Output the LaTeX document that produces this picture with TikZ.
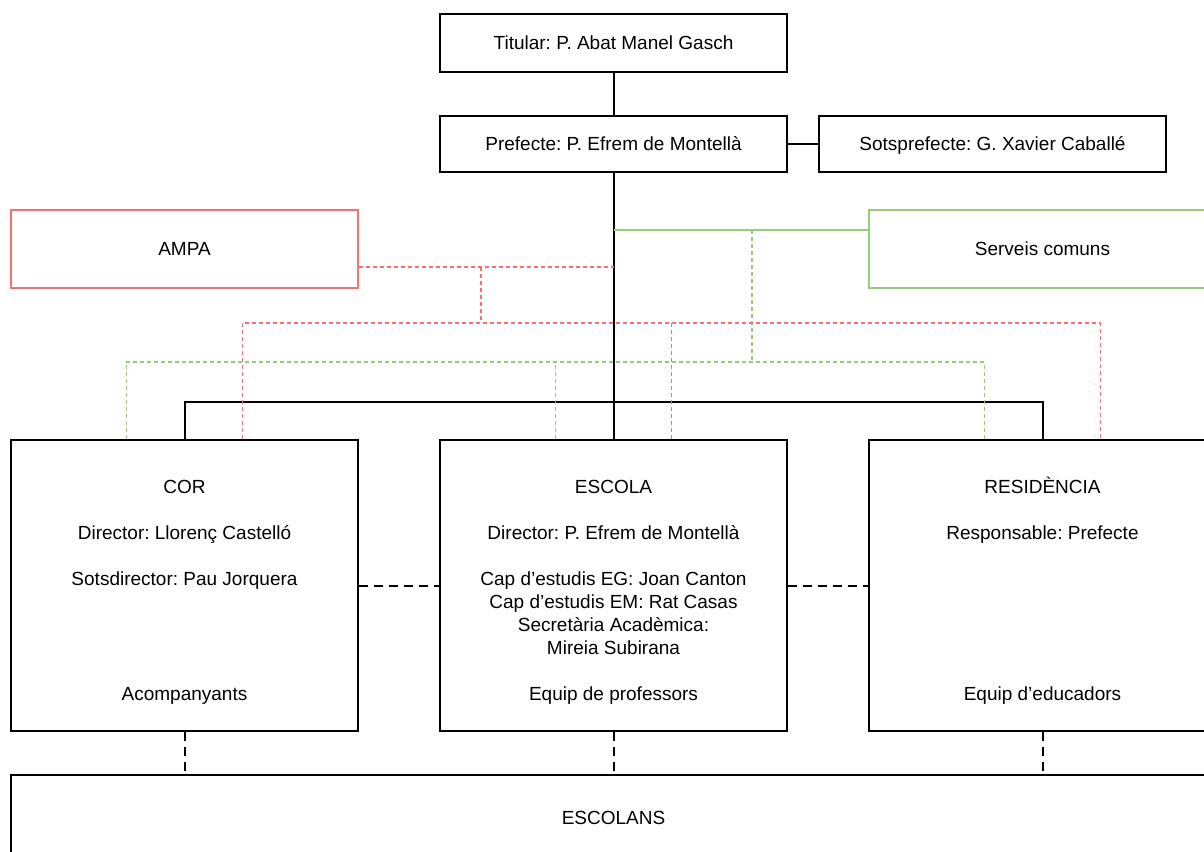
\documentclass[tikz,border=0pt]{standalone}
\usepackage{fontspec}
\setmainfont{Liberation Sans}
\definecolor{ampaRed}{RGB}{255,110,110}
\definecolor{serveisGreen}{RGB}{150,205,120}
\frenchspacing

\begin{document}
\begin{tikzpicture}
[x=1pt,y=-1pt,%
  boxDecorate/.style={draw,line width=1.8pt,minimum width=347pt,inner sep=0pt,font=\fontsize{19}{23}\selectfont},%
  smallBox/.style={boxDecorate,text height=13.6pt,text depth=0pt},%
  bigBox/.style={boxDecorate,text height=53.8pt,text depth=237.2pt},%
  solidLine/.style={line width=2pt},%
  dashLine/.style={line width=2pt,dash pattern=on 9pt off 6pt},%
  redLine/.style={draw=ampaRed,line width=1.3pt,dash pattern=on 4pt off 3pt},%
  greenLine/.style={draw=serveisGreen,line width=1.3pt,dash pattern=on 4pt off 3pt}]
\clip (0,0) rectangle (1204,851);
%% small boxes
\foreach \nodename/\x/\y/\w/\h/\col/\lw/\txt in {
  titular/613.5/43/347/58/black/1.8/{Titular: P. Abat Manel Gasch},
  prefecte/613.5/144/347/56/black/1.8/{Prefecte: P. Efrem de Montellà},
  sotsprefecte/992.5/144/347/56/black/1.8/{Sotsprefecte: G. Xavier Caballé},
  ampa/184.5/249/347/78/ampaRed/1.3/AMPA,
  serveis/1042.5/249/347/78/serveisGreen/1.3/{Serveis comuns},
  escolans/613.5/818/1205/86/black/1.8/ESCOLANS}
{
  \node (\nodename) at (\x,\y) [smallBox,draw=\col,line width=\lw pt,minimum width=\w pt,minimum height=\h pt] {\txt};
}
%% big boxes
\node (cor) at (184.5,585.5) [bigBox] {\begin{tabular}[t]{@{}c@{}}COR\\ \\ Director: Llorenç Castelló\\ \\ Sotsdirector: Pau Jorquera\\ \\ \\ \\ \\ Acompanyants\end{tabular}};
\node (escola) at (613.5,585.5) [bigBox] {\begin{tabular}[t]{@{}c@{}}ESCOLA\\ \\ Director: P. Efrem de Montellà\\ \\ Cap d’estudis EG: Joan Canton\\ Cap d’estudis EM: Rat Casas\\ Secretària Acadèmica:\\ Mireia Subirana\\ \\ Equip de professors\end{tabular}};
\node (res) at (1042.5,585.5) [bigBox] {\begin{tabular}[t]{@{}c@{}}RESIDÈNCIA\\ \\ Responsable: Prefecte\\ \\ \\ \\ \\ \\ \\ Equip d’educadors\end{tabular}};
%% junction points
\coordinate (bus) at (613.5,402);
\coordinate (greenJoin) at (613.5,230);
\coordinate (greenDrop) at (752,230);
\coordinate (greenBus) at (752,362);
\coordinate (redJoin) at (613.5,267);
\coordinate (redDrop) at (481,267);
\coordinate (redBus) at (481,323);
\foreach \nodename in {cor,escola,res}
{
  \coordinate (\nodename-green) at ([xshift=-58pt]\nodename.north);
  \coordinate (\nodename-red) at ([xshift=58pt]\nodename.north);
}
%% solid lines
\draw[solidLine] (titular) -- (prefecte);
\draw[solidLine] (prefecte) -- (sotsprefecte);
\draw[solidLine] (prefecte) -- (escola);
\draw[solidLine] (cor.north) |- (bus) -| (res.north);
%% serveis comuns lines
\draw[draw=serveisGreen,line width=1.3pt] (greenJoin) -- (greenJoin -| serveis.west);
\draw[greenLine] (greenDrop) -- (greenBus);
\draw[greenLine] (cor-green) |- (greenBus) -| (res-green);
\draw[greenLine] (escola-green) -- (escola-green |- greenBus);
%% ampa lines
\draw[redLine] (redJoin -| ampa.east) -- (redJoin);
\draw[redLine] (redDrop) -- (redBus);
\draw[redLine] (cor-red) |- (redBus) -| (res-red);
\draw[redLine] (escola-red) -- (escola-red |- redBus);
%% dashed lines
\draw[dashLine] (cor) -- (escola);
\draw[dashLine] (escola) -- (res);
\foreach \nodename in {cor,escola,res}
{
  \draw[dashLine] (\nodename.south) -- (\nodename.south |- escolans.north);
}
\end{tikzpicture}
\end{document}
